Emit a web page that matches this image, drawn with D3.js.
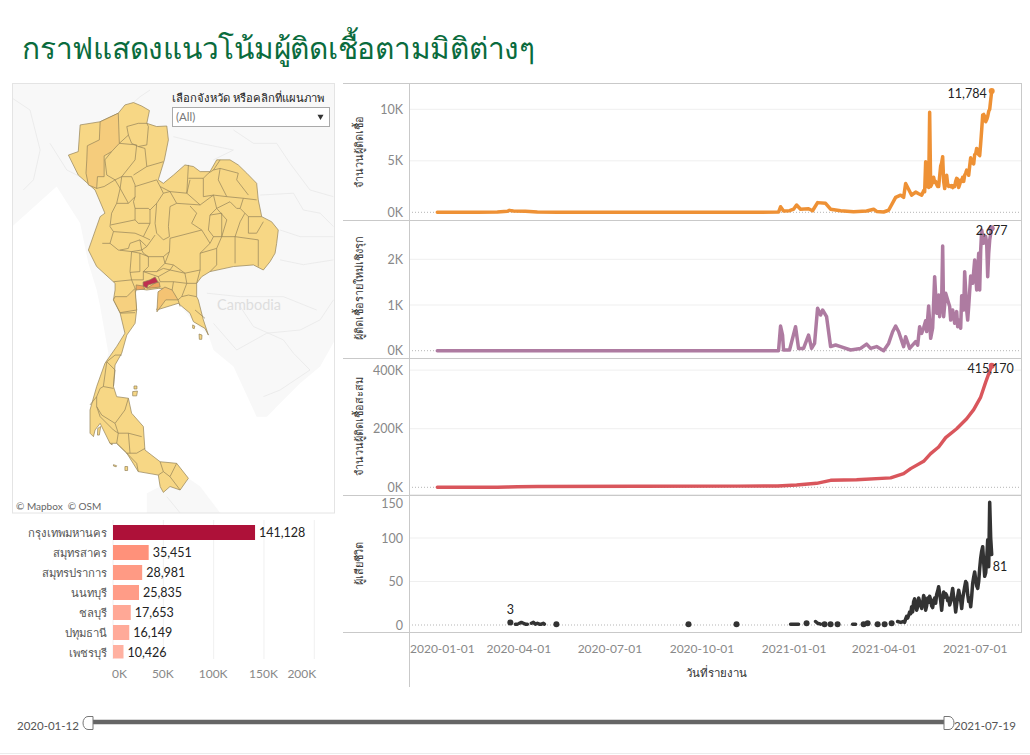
<!DOCTYPE html>
<html>
<head>
<meta charset="utf-8">
<script src="https://cdn.jsdelivr.net/npm/d3@7/dist/d3.min.js"></script>
<style>
html,body{margin:0;padding:0;background:#fff;}
text{font-family:Lato,"Noto Sans",sans-serif;}
</style>
</head>
<body>
<svg id="chart" width="1030" height="755"></svg>
<script>
// values. days are counted from the first report date
var startDay = "2020-01-12";
var endDay = "2021-07-19";
var tickDates = ["2020-01-01","2020-04-01","2020-07-01","2020-10-01","2021-01-01","2021-04-01","2021-07-01"];

var casesDays = [0,40,60,70,72,76,88,100,120,160,220,300,341,343,346,352,356,359,363,371,375,380,388,393,403,416,429,436,439,446,451,458,463,466,468,474,478,481,484,486,487,488,489,490,491,492,493,494,495,496,497,498,499,500,501,502,503,504,505,506,507,508,509,510,511,512,513,514,515,516,517,518,519,520,521,522,523,524,525,526,527,528,529,530,531,532,533,534,535,536,537,538,539,540,541,542,543,544,545,546,547,548,549,550,551,552,553,554];
var casesValues = [0,2,30,100,188,120,100,40,10,5,5,5,20,540,130,160,300,710,300,350,150,940,870,300,150,50,120,300,80,30,200,1450,1660,1450,2800,1660,1970,1800,1660,2100,2000,4900,2500,3000,2400,9710,2500,2700,3000,3400,2900,3000,2700,2500,2500,3500,4500,4800,5400,3000,2300,2900,3600,2700,2500,2600,2500,2600,2400,2600,2500,3000,3300,3200,2400,2700,3100,3000,3400,3000,3600,3800,4100,4000,3600,4500,5300,4800,4900,4700,5600,5700,6200,6100,5600,5500,6700,8000,9450,9500,9300,8800,9000,9300,9800,10000,10900,11784];

var activeDays = [0,341,343,345,346,352,358,361,366,371,374,377,380,383,385,389,393,398,403,413,423,429,433,439,446,451,455,458,461,466,468,472,478,480,482,484,486,488,489,491,493,495,497,499,501,502,504,505,506,508,510,512,513,515,517,519,520,521,523,524,526,527,529,530,531,533,535,537,539,541,542,543,544,546,548,549,550,551,552,553,554];
var activeValues = [0,0,540,340,15,15,525,50,50,340,50,160,930,780,890,745,90,125,90,15,50,145,50,90,0,160,415,540,415,90,305,50,200,120,525,380,500,655,420,980,270,500,1620,820,1220,745,1110,2290,745,1255,1110,965,670,890,600,855,525,670,490,1200,890,1730,890,670,965,1635,1475,1985,1330,2130,1330,2205,2640,2350,2500,2350,1620,2130,2420,2570,2677];

var totalDays = [0,60,70,80,100,200,300,340,359,379,393,419,453,466,473,486,493,501,508,519,529,536,543,548,554];
var totalValues = [0,150,800,2000,2900,3500,3900,4400,8000,13600,23900,26000,32000,46600,63700,88700,115000,137600,169500,200000,234000,265000,308000,359000,415170];

// null breaks the line, a point alone between nulls is a dot
var deathDays = [73,null,78,80,null,82,84,86,88,90,null,94,96,98,100,102,104,106,107,null,119,null,251,null,299,null,353,355,358,361,null,369,null,378,380,383,null,387,null,393,null,400,null,415,418,null,426,null,430,null,440,null,447,null,454,null,460,463,466,467,468,469,470,471,472,473,474,475,476,477,478,479,480,481,482,483,484,485,486,487,488,489,490,491,492,493,494,495,496,497,498,499,500,501,502,503,504,505,506,507,508,509,510,511,512,513,514,515,516,517,518,519,520,521,522,523,524,525,526,527,528,529,530,531,532,533,534,535,536,537,538,539,540,541,542,543,544,545,546,547,548,549,550,551,552,553,554];
var deathValues = [3,null,1,1,null,2,3,2,1,1,null,2,3,1,2,1,1,2,1,null,1,null,1,null,1,null,1,1,1,1,null,2,null,4,2,1,null,1,null,1,null,1,null,1,1,null,1,null,2,null,1,null,1,null,2,null,4,3,4,3,7,10,8,11,15,13,21,15,27,30,24,17,21,31,27,24,19,25,34,30,17,22,31,26,33,29,22,20,28,31,25,35,39,44,36,28,17,29,38,32,36,34,28,31,23,27,35,42,32,26,15,24,33,40,34,28,19,30,37,44,50,48,35,27,31,21,33,48,55,61,52,45,42,50,65,77,85,90,72,56,60,75,98,67,141,100,81];

var provinceNames = ["กรุงเทพมหานคร","สมุทรสาคร","สมุทรปราการ","นนทบุรี","ชลบุรี","ปทุมธานี","เพชรบุรี"];
var provinceValues = [141128,35451,28981,25835,17653,16149,10426];
var provinceColors = ["#ae1139","#ff917a","#ff9a84","#ff9c87","#ffa896","#ffaa99","#ffb1a1"];

// map shapes in lon/lat, traced by eye
var thaiOutline = [[99.83,20.48],[100.14,20.35],[100.43,20.18],[100.33,19.70],[100.70,19.58],[101.08,19.60],[101.14,19.08],[100.99,18.33],[100.76,17.58],[100.95,17.45],[101.33,17.76],[101.76,18.14],[102.08,18.08],[102.33,17.89],[102.70,17.89],[102.95,18.33],[103.45,18.33],[103.76,18.14],[104.08,17.83],[104.45,17.45],[104.51,16.83],[104.64,16.20],[105.01,16.01],[105.26,15.70],[105.20,15.20],[105.14,14.83],[104.95,14.51],[104.70,14.20],[104.33,14.39],[103.58,14.33],[102.70,14.14],[102.39,13.95],[102.20,13.70],[102.20,13.20],[102.26,13.08],[102.45,12.33],[102.64,11.76],[102.51,12.01],[102.08,12.26],[101.95,12.58],[101.51,12.95],[100.70,12.70],[100.89,13.20],[100.95,13.51],[100.76,13.51],[100.33,13.45],[99.95,13.51],[99.89,13.33],[99.95,12.70],[99.89,12.20],[99.58,11.76],[99.39,11.08],[99.14,10.64],[99.08,9.83],[99.20,9.45],[99.64,9.39],[99.76,8.83],[100.20,8.33],[100.26,7.45],[100.83,7.01],[101.45,6.95],[101.89,6.39],[101.58,5.95],[101.20,6.08],[100.95,5.86],[100.83,6.08],[100.76,6.51],[100.01,6.64],[99.58,7.33],[99.20,7.70],[98.95,7.70],[98.58,8.45],[98.39,8.20],[98.33,7.95],[98.20,8.08],[98.20,8.95],[98.45,9.83],[98.76,10.70],[99.20,11.33],[99.51,11.83],[99.33,12.58],[99.08,13.08],[99.14,13.45],[99.14,13.70],[98.45,14.33],[98.14,14.95],[98.58,16.20],[98.76,16.33],[98.39,17.20],[97.76,17.76],[97.39,18.51],[97.76,18.64],[97.83,19.64],[98.58,19.76],[99.26,20.08],[99.51,20.39]];
var islands = [
  [[98.49,8.26],[98.60,8.33],[98.55,8.01],[98.48,8.01]],
  [[99.80,9.64],[99.98,9.66],[99.95,9.48],[99.80,9.48]],
  [[99.85,9.85],[99.96,9.85],[99.96,9.74],[99.85,9.74]],
  [[102.29,11.80],[102.40,11.76],[102.39,11.60],[102.30,11.60]],
  [[99.51,6.83],[99.61,6.83],[99.61,6.68],[99.51,6.68]],
  [[98.93,7.95],[99.03,7.83],[99.03,7.64],[98.95,7.70]],
  [[102.05,12.14],[102.13,12.10],[102.11,12.00],[102.05,12.02]],
  [[99.08,6.90],[99.20,6.86],[99.18,6.82],[99.08,6.85]]
];
var provinceBorders = [
  [[99.30,18.95],[99.64,19.26],[99.76,18.95],[100.01,18.83],[100.33,18.89],[100.39,19.58],[100.33,19.70]],
  [[99.64,19.26],[99.58,19.58],[100.01,19.70],[100.33,19.70]],
  [[99.30,18.95],[99.95,18.89],[99.89,18.33],[99.39,17.70],[99.33,17.26],[99.64,16.70],[99.89,16.95],[99.89,17.39],[99.76,17.70],[99.39,17.70]],
  [[99.01,18.64],[98.76,18.33],[98.83,17.76],[99.14,17.58],[99.39,17.70]],
  [[100.01,18.83],[100.26,18.76],[100.33,18.08],[99.83,17.76]],
  [[100.33,18.08],[100.95,18.26]],
  [[98.45,17.26],[98.73,17.33],[99.14,17.58],[99.33,17.26]],
  [[99.33,17.26],[99.20,16.70],[99.01,16.33],[98.95,15.83],[99.08,15.64],[99.89,15.58],[100.20,15.45],[100.45,15.33]],
  [[99.20,16.70],[99.64,16.70]],
  [[99.89,17.33],[100.70,17.58],[100.83,17.33],[100.95,17.08],[100.70,16.70],[100.45,16.45],[100.39,16.51],[99.89,16.51],[99.83,16.76],[99.89,16.95]],
  [[99.89,16.51],[99.89,16.08],[98.98,15.89]],
  [[99.89,16.08],[100.01,15.95],[100.45,15.95],[100.45,16.45]],
  [[100.45,15.95],[100.20,15.45]],
  [[100.95,17.08],[101.20,17.14],[101.45,16.70],[101.20,16.58],[101.14,15.83],[101.18,15.45],[100.95,15.33],[100.70,15.58],[100.64,15.95],[100.70,16.70]],
  [[100.83,17.33],[101.20,17.14],[101.83,17.08],[101.89,18.14]],
  [[101.45,16.70],[102.33,16.64],[102.83,17.01],[102.95,16.51],[102.70,16.26],[102.64,15.70],[102.83,15.45],[102.70,15.20],[102.39,15.70],[102.01,15.95],[102.20,16.33],[101.95,16.60]],
  [[102.39,15.70],[101.20,15.39]],
  [[101.83,17.08],[102.33,16.64]],
  [[101.89,17.64],[102.45,17.64],[102.64,17.83],[102.83,17.95],[103.08,18.33]],
  [[101.95,17.58],[101.83,17.08]],
  [[102.45,17.64],[102.45,16.95],[102.83,17.01]],
  [[102.83,17.01],[103.33,16.95],[103.95,16.89],[104.45,16.83]],
  [[102.83,17.95],[103.08,18.01],[103.76,17.83],[103.70,17.58],[104.14,17.01]],
  [[103.08,18.01],[103.01,17.58],[103.33,16.95]],
  [[102.95,16.51],[103.45,16.76],[103.70,16.51],[103.83,16.51]],
  [[103.95,16.89],[103.83,16.51],[104.01,16.33],[104.14,16.20],[104.64,16.20]],
  [[104.01,16.33],[103.83,16.01],[103.64,15.45],[103.14,15.45],[103.33,16.08],[102.95,16.51]],
  [[102.70,16.26],[103.14,16.33],[103.14,15.45],[102.83,15.45]],
  [[104.14,16.20],[104.14,15.58],[104.45,15.58],[104.70,16.01]],
  [[103.64,15.45],[104.51,15.33],[104.51,14.33]],
  [[103.64,15.45],[103.64,14.45]],
  [[103.14,15.45],[102.95,15.01],[102.95,14.39],[102.70,14.14]],
  [[102.70,15.20],[102.33,14.83],[102.33,14.20],[101.76,14.08],[101.33,14.39],[101.01,14.45],[101.18,14.89],[101.20,15.39]],
  [[102.33,14.83],[102.95,15.01]],
  [[102.33,14.20],[102.20,13.70]],
  [[101.76,14.08],[101.83,13.70],[102.20,13.70]],
  [[101.33,14.39],[101.20,14.20],[101.76,14.08]],
  [[101.20,14.20],[100.76,13.95],[100.83,13.76],[101.33,13.76],[101.83,13.70]],
  [[100.95,14.70],[101.01,14.45],[100.70,14.14],[100.95,14.26],[101.20,14.20]],
  [[100.64,15.51],[100.33,15.08],[100.14,14.95],[100.20,14.83],[100.39,14.70],[100.95,14.70],[101.18,14.89]],
  [[100.39,14.70],[100.39,14.33],[100.20,14.14],[100.70,14.14]],
  [[99.08,15.64],[98.95,15.20],[99.26,14.95],[99.76,14.89],[100.14,14.95],[100.07,15.33],[99.70,15.20],[99.64,15.01],[99.33,14.95]],
  [[100.07,15.33],[100.33,15.08]],
  [[98.95,15.20],[98.66,15.20]],
  [[99.76,14.89],[99.70,14.14],[99.76,13.83],[99.08,13.76]],
  [[99.76,14.89],[100.07,14.83],[100.39,14.70]],
  [[100.07,14.83],[100.07,14.14],[99.70,14.11]],
  [[100.20,14.14],[100.20,13.83],[99.76,13.83]],
  [[100.20,14.14],[100.76,13.95]],
  [[99.76,13.83],[99.89,13.51]],
  [[99.33,12.58],[99.89,12.60]],
  [[99.14,11.01],[99.39,11.01]],
  [[99.14,11.01],[98.83,10.76],[98.70,9.83],[99.08,9.76]],
  [[98.83,10.76],[99.14,10.45],[99.08,9.83]],
  [[98.70,9.83],[98.58,9.76],[98.45,9.45],[98.20,9.14]],
  [[98.45,9.45],[98.45,9.08],[98.64,8.76],[99.14,8.45],[99.51,8.95],[99.64,9.39]],
  [[98.45,9.08],[98.58,8.70],[99.08,8.20],[99.26,8.08]],
  [[99.14,8.45],[99.26,8.08],[99.64,8.08],[100.14,7.95]],
  [[99.26,8.08],[99.20,7.70],[99.58,7.33],[99.95,7.33],[100.26,7.51]],
  [[99.64,8.08],[99.70,7.33]],
  [[99.58,7.33],[99.95,6.95],[100.01,6.64]],
  [[100.83,7.01],[100.95,6.64],[100.76,6.51]],
  [[100.95,6.64],[101.20,6.45],[101.45,6.95]],
  [[101.20,6.45],[101.58,5.95]],
  [[101.33,13.76],[101.28,13.45]],
  [[101.50,13.08],[101.58,12.83]],
  [[101.83,13.70],[101.64,13.20],[101.50,13.08]],
  [[101.64,13.20],[101.89,13.26],[102.20,13.20]],
  [[102.14,12.70],[102.51,12.39]]
];
var chiangMai = [[98.58,19.76],[99.26,20.08],[99.30,18.95],[99.01,18.64],[98.73,18.48],[98.73,17.70],[98.48,17.70],[98.45,17.26],[98.14,17.39],[98.05,17.83],[98.08,18.33],[98.10,18.86],[98.55,19.08]];
var phetchaburi = [[99.14,13.20],[99.58,13.20],[99.89,13.51],[99.95,12.70],[99.33,12.60],[99.08,13.08]];
var chonburi = [[100.75,13.38],[101.01,13.56],[101.28,13.45],[101.50,13.08],[101.04,13.08],[100.71,12.63]];
var samutPrakan = [[100.34,13.52],[100.64,13.71],[100.79,13.75],[100.83,13.56],[100.45,13.52]];
var samutSakhon = [[99.93,13.64],[100.19,13.60],[100.26,13.49],[99.93,13.45]];
var bangkok = [[100.19,13.75],[100.45,13.83],[100.64,13.94],[100.75,13.75],[100.64,13.71],[100.38,13.64],[100.34,13.52],[100.19,13.60]];

var landNorth = [[95.28,21.21],[107.39,21.21],[107.39,11.58],[106.83,10.58],[106.08,9.95],[104.83,8.70],[104.45,8.70],[103.58,10.58],[102.83,11.20],[102.64,11.76],[102.08,12.26],[101.51,12.95],[100.70,12.70],[100.95,13.51],[99.95,13.51],[99.95,12.70],[99.39,11.45],[98.76,10.70],[98.89,11.08],[98.58,12.83],[98.45,13.45],[98.14,14.45],[97.83,15.95],[96.95,17.33],[95.28,15.83]];
var landSouth = [[100.33,5.83],[100.83,6.08],[101.89,6.39],[102.33,6.08],[103.08,5.09],[100.33,5.09]];
var neighbourBorders = [
  [[95.20,20.70],[95.95,20.20],[96.33,18.70],[96.08,17.58],[95.70,17.20]],
  [[96.70,18.95],[97.33,17.95],[97.83,17.70]],
  [[100.45,20.95],[100.08,20.70],[99.83,20.48]],
  [[101.33,19.20],[102.33,18.95],[103.58,18.70],[102.83,18.33]],
  [[103.58,19.45],[104.33,18.95],[105.20,18.95],[105.70,18.20],[106.45,17.20],[107.33,16.95]],
  [[104.58,17.01],[105.83,17.08],[106.20,16.45],[106.83,16.33],[107.33,15.83]],
  [[105.33,15.70],[106.08,15.45],[107.33,15.45]],
  [[105.33,14.58],[106.20,14.40],[107.33,14.58]],
  [[102.83,12.20],[103.70,11.20],[104.83,11.83],[106.08,11.95],[106.83,12.33],[107.33,13.08]],
  [[103.83,12.83],[104.33,12.08],[105.45,11.58],[105.83,11.08],[106.45,10.45],[105.33,9.70],[104.70,9.45]],
  [[102.58,13.33],[103.83,13.20],[105.45,13.20],[106.70,12.70]],
  [[101.08,5.70],[101.58,5.09]]
];

var svg = d3.select("#chart");
var parseDay = d3.timeParse("%Y-%m-%d");
var firstDay = parseDay(startDay);
function dayToDate(n){ return d3.timeDay.offset(firstDay, n); }

svg.append("text").attr("x",22).attr("y",59).attr("font-size",29.8).attr("letter-spacing",-0.25).attr("fill","#0a6b3d")
  .text("กราฟแสดงแนวโน้มผู้ติดเชื้อตามมิติต่างๆ");

/* ---- map ---- */
var lonScale = d3.scaleLinear().domain([97,106]).range([58,298]);
var latScale = d3.scaleLinear().domain([21,5]).range([88.67,515.33]);
var mapPath = d3.geoPath().projection(d3.geoTransform({
  point: function(lon,lat){ this.stream.point(lonScale(lon),latScale(lat)); }
}));
function poly(c){ return {type:"Polygon",coordinates:[c.concat([c[0]])]}; }
function lines(c){ return {type:"MultiLineString",coordinates:c}; }

svg.append("clipPath").attr("id","mapClip").append("rect")
  .attr("x",13).attr("y",84).attr("width",321).attr("height",429);
var map = svg.append("g").attr("clip-path","url(#mapClip)");

map.append("path").datum(poly(landNorth)).attr("d",mapPath).attr("fill","#f8f8f8");
map.append("path").datum(poly(landSouth)).attr("d",mapPath).attr("fill","#f8f8f8");
map.append("path").datum(lines(neighbourBorders)).attr("d",mapPath)
  .attr("fill","none").attr("stroke","#e9e9e9").attr("stroke-width",0.8);
map.append("text").attr("x",249).attr("y",310).attr("text-anchor","middle")
  .attr("font-size",14.5).attr("fill","#dedede").text("Cambodia");

var borderCol = "#938359";
map.selectAll(".island").data(islands).enter().append("path").attr("class","island")
  .attr("d",function(d){ return mapPath(poly(d)); })
  .attr("fill","#f7d785").attr("stroke",borderCol).attr("stroke-width",0.7);
map.append("path").datum(poly(thaiOutline)).attr("d",mapPath)
  .attr("fill","#f7d785").attr("stroke",borderCol).attr("stroke-width",0.7);

var shaded = [[chiangMai,"#f5cc7c"],[phetchaburi,"#f6d07f"],[chonburi,"#f4c373"],[samutPrakan,"#eea65e"],[samutSakhon,"#eea65e"],[bangkok,"#bf2f50"]];
map.selectAll(".shaded").data(shaded).enter().append("path").attr("class","shaded")
  .attr("d",function(d){ return mapPath(poly(d[0])); })
  .attr("fill",function(d){ return d[1]; })
  .attr("stroke",borderCol).attr("stroke-width",0.7);
map.append("path").datum(lines(provinceBorders)).attr("d",mapPath)
  .attr("fill","none").attr("stroke",borderCol).attr("stroke-width",0.7);

svg.append("rect").attr("x",12.5).attr("y",83.5).attr("width",322).attr("height",429.5)
  .attr("fill","none").attr("stroke","#e4e4e4");
svg.append("text").attr("x",16).attr("y",510).attr("font-size",10).attr("fill","#666").text("© Mapbox  © OSM").attr("xml:space","preserve");

// province filter
svg.append("text").attr("x",172).attr("y",102).attr("font-size",11.3).attr("fill","#222").text("เลือกจังหวัด หรือคลิกที่แผนภาพ");
svg.append("rect").attr("x",172.5).attr("y",107.5).attr("width",157).attr("height",19)
  .attr("fill","#fff").attr("stroke","#aaa");
svg.append("text").attr("x",176).attr("y",121).attr("font-size",11.5).attr("fill","#777").text("(All)");
svg.append("path").attr("d",d3.symbol().type(d3.symbolTriangle).size(16)())
  .attr("transform","translate(320.5,116.5) rotate(180)").attr("fill","#333");

/* ---- province bars ---- */
var barX = d3.scaleLinear().domain([0,200000]).range([113,314.3]);
var barY = d3.scaleBand().domain(provinceNames).range([522.5,662.5]).paddingInner(0.25).paddingOuter(0.125);
var barTicks = [0,50000,100000,150000,200000];
svg.selectAll(".barGrid").data(barTicks).enter().append("line").attr("class","barGrid")
  .attr("x1",function(d){ return barX(d); }).attr("x2",function(d){ return barX(d); })
  .attr("y1",520).attr("y2",659).attr("stroke","#f0f0f0");
svg.append("clipPath").attr("id","barClip").append("rect").attr("x",100).attr("y",515).attr("width",240).attr("height",143.5);
var bars = svg.append("g").attr("clip-path","url(#barClip)");
bars.selectAll("rect.bar").data(provinceValues).enter().append("rect").attr("class","bar")
  .attr("x",barX(0))
  .attr("y",function(d,i){ return barY(provinceNames[i]); })
  .attr("width",function(d){ return barX(d)-barX(0); })
  .attr("height",barY.bandwidth())
  .attr("fill",function(d,i){ return provinceColors[i]; });
svg.selectAll(".barLabel").data(provinceValues).enter().append("text").attr("class","barLabel")
  .attr("x",function(d){ return barX(d)+4; })
  .attr("y",function(d,i){ return barY(provinceNames[i])+barY.bandwidth()/2+4; })
  .attr("font-size",12.5).attr("fill","#222").text(d3.format(","));
svg.selectAll(".barName").data(provinceNames).enter().append("text").attr("class","barName")
  .attr("x",107).attr("text-anchor","end")
  .attr("y",function(d){ return barY(d)+barY.bandwidth()/2+4; })
  .attr("font-size",11.3).attr("fill","#555").text(function(d){ return d; });
var barAxis = svg.append("g").attr("transform","translate(0,662)")
  .call(d3.axisBottom(barX).tickValues(barTicks).tickSize(0).tickPadding(7).tickFormat(function(d){ return d/1000+"K"; }));
barAxis.select(".domain").remove();
barAxis.selectAll("text").attr("font-size",12).attr("fill","#888").attr("font-family","Lato")
  .attr("dx",function(d){ return d==0 ? 6 : (d==200000 ? -13 : -1); });

/* ---- time series panels ---- */
var xTime = d3.scaleTime().domain([firstDay,parseDay(endDay)]).range([437.3,991.7]);
var plotLeft = 409, plotRight = 1022;

var panels = [
  {name:"จำนวนผู้ติดเชื้อ", days:casesDays, vals:casesValues, color:"#ee9135", zero:212.3, unit:[10000,109.3], ticks:[0,5000,10000], titleY:152},
  {name:"ผู้ติดเชื้อรายใหม่เชิงรุก", days:activeDays, vals:activeValues, color:"#ae7ba1", zero:350.7, unit:[2000,259.3], ticks:[0,1000,2000], titleY:288},
  {name:"จำนวนผู้ติดเชื้อสะสม", days:totalDays, vals:totalValues, color:"#d9565c", zero:487.3, unit:[400000,370.1], ticks:[0,200000,400000], titleY:426},
  {name:"ผู้เสียชีวิต", days:deathDays, vals:deathValues, color:"#333333", zero:625, unit:[150,494.5], ticks:[0,50,100,150], titleY:563}
];

panels.forEach(function(p,k){
  var y = d3.scaleLinear().domain([0,p.unit[0]]).range([p.zero,p.unit[1]]);
  p.y = y;
  var g = svg.append("g");

  p.ticks.forEach(function(t){
    if (t==0) return;
    g.append("line").attr("x1",plotLeft).attr("x2",plotRight).attr("y1",y(t)).attr("y2",y(t)).attr("stroke","#efefef");
  });
  g.append("line").attr("x1",plotLeft).attr("x2",plotRight).attr("y1",y(0)).attr("y2",y(0))
    .attr("stroke","#b5b5b5").attr("stroke-dasharray","1,2");

  var axis = g.append("g").attr("transform","translate(409,0)")
    .call(d3.axisLeft(y).tickValues(p.ticks).tickSize(0).tickPadding(6)
      .tickFormat(function(d){ return k==3 ? d : d/1000+"K"; }));
  axis.select(".domain").remove();
  axis.selectAll("text").attr("font-size",12.5).attr("fill","#888").attr("font-family","Lato")
    .attr("dy",function(d){ return (k==3 && d==150) ? "1.05em" : "0.32em"; });

  g.append("text").attr("transform","translate(363,"+p.titleY+") rotate(-90)")
    .attr("text-anchor","middle").attr("font-size",11).attr("fill","#333").text(p.name);

  var line = d3.line()
    .defined(function(d){ return d[0]!==null; })
    .x(function(d){ return xTime(dayToDate(d[0])); })
    .y(function(d){ return y(d[1]); });
  var pts = p.days.map(function(d,i){ return [d,p.vals[i]]; });
  g.append("path").datum(pts).attr("d",line)
    .attr("fill","none").attr("stroke",p.color).attr("stroke-width",k==2 ? 3.4 : 3.5)
    .attr("stroke-linejoin","round").attr("stroke-linecap","round");
  p.pts = pts;
});

// lone points of the deaths series are dots
var deathPanel = panels[3];
var lone = deathPanel.pts.filter(function(d,i,a){
  return d[0]!==null && (i==0 || a[i-1][0]===null) && (i==a.length-1 || a[i+1][0]===null);
});
svg.selectAll(".lone").data(lone).enter().append("circle").attr("class","lone")
  .attr("cx",function(d){ return xTime(dayToDate(d[0])); })
  .attr("cy",function(d){ return deathPanel.y(d[1]); })
  .attr("r",3).attr("fill","#333");

// end markers
panels.slice(0,3).forEach(function(p){
  var last = p.pts[p.pts.length-1];
  svg.append("circle").attr("cx",xTime(dayToDate(last[0]))).attr("cy",p.y(last[1])).attr("r",3).attr("fill",p.color);
});

// value labels
function valueLabel(panel,pt,dx,dy,anchor){
  svg.append("text").attr("x",xTime(dayToDate(pt[0]))+dx).attr("y",panel.y(pt[1])+dy)
    .attr("text-anchor",anchor).attr("font-size",12.5).attr("fill","#222").text(d3.format(",")(pt[1]));
}
valueLabel(panels[0],panels[0].pts[panels[0].pts.length-1],-5,7,"end");
valueLabel(panels[1],panels[1].pts[panels[1].pts.length-1],0,7,"middle");
valueLabel(panels[2],panels[2].pts[panels[2].pts.length-1],-1,7,"middle");
valueLabel(panels[3],panels[3].pts[panels[3].pts.length-1],1,16.5,"start");
valueLabel(panels[3],panels[3].pts[0],0,-8,"middle");

// frame of the panels
[83,220,358,495,632].forEach(function(v){
  svg.append("line").attr("x1",343).attr("x2",plotRight).attr("y1",v+0.5).attr("y2",v+0.5).attr("stroke","#c9c9c9");
});
svg.append("line").attr("x1",plotLeft+0.5).attr("x2",plotLeft+0.5).attr("y1",83).attr("y2",687).attr("stroke","#c9c9c9");
svg.append("line").attr("x1",plotRight-0.5).attr("x2",plotRight-0.5).attr("y1",83).attr("y2",632).attr("stroke","#c9c9c9");

// date axis
var dateAxis = svg.append("g").attr("transform","translate(0,632)")
  .call(d3.axisBottom(xTime).tickValues(tickDates.map(parseDay)).tickSize(0).tickPadding(12)
    .tickFormat(d3.timeFormat("%Y-%m-%d")));
dateAxis.select(".domain").remove();
dateAxis.selectAll("text").attr("font-size",12).attr("fill","#888").attr("font-family","Lato")
  .attr("dx",1);
dateAxis.selectAll("text").filter(function(d,i){ return i==0; })
  .attr("text-anchor","start").attr("x",plotLeft-xTime(parseDay(tickDates[0]))).attr("dx",0.5);

svg.append("text").attr("x",716).attr("y",677).attr("text-anchor","middle")
  .attr("font-size",11.5).attr("fill","#333").text("วันที่รายงาน");

/* ---- date range slider ---- */
var sliderY = 722;
svg.append("line").attr("x1",92).attr("x2",946).attr("y1",sliderY).attr("y2",sliderY)
  .attr("stroke","#666").attr("stroke-width",4.5);
svg.append("path").attr("d","M93,716.5 L88,716.5 A5,6.5 0 0 0 88,729.5 L93,729.5 Z").attr("fill","#fff").attr("stroke","#777");
svg.append("path").attr("d","M944,716.5 L949,716.5 A5,6.5 0 0 1 949,729.5 L944,729.5 Z").attr("fill","#fff").attr("stroke","#777");
svg.append("text").attr("x",17).attr("y",730).attr("font-size",11.5).attr("fill","#555").text(startDay);
svg.append("text").attr("x",954).attr("y",730).attr("font-size",11.5).attr("fill","#555").text(endDay);
svg.append("line").attr("x1",0).attr("x2",1030).attr("y1",753.5).attr("y2",753.5).attr("stroke","#ececec");
</script>
</body>
</html>
